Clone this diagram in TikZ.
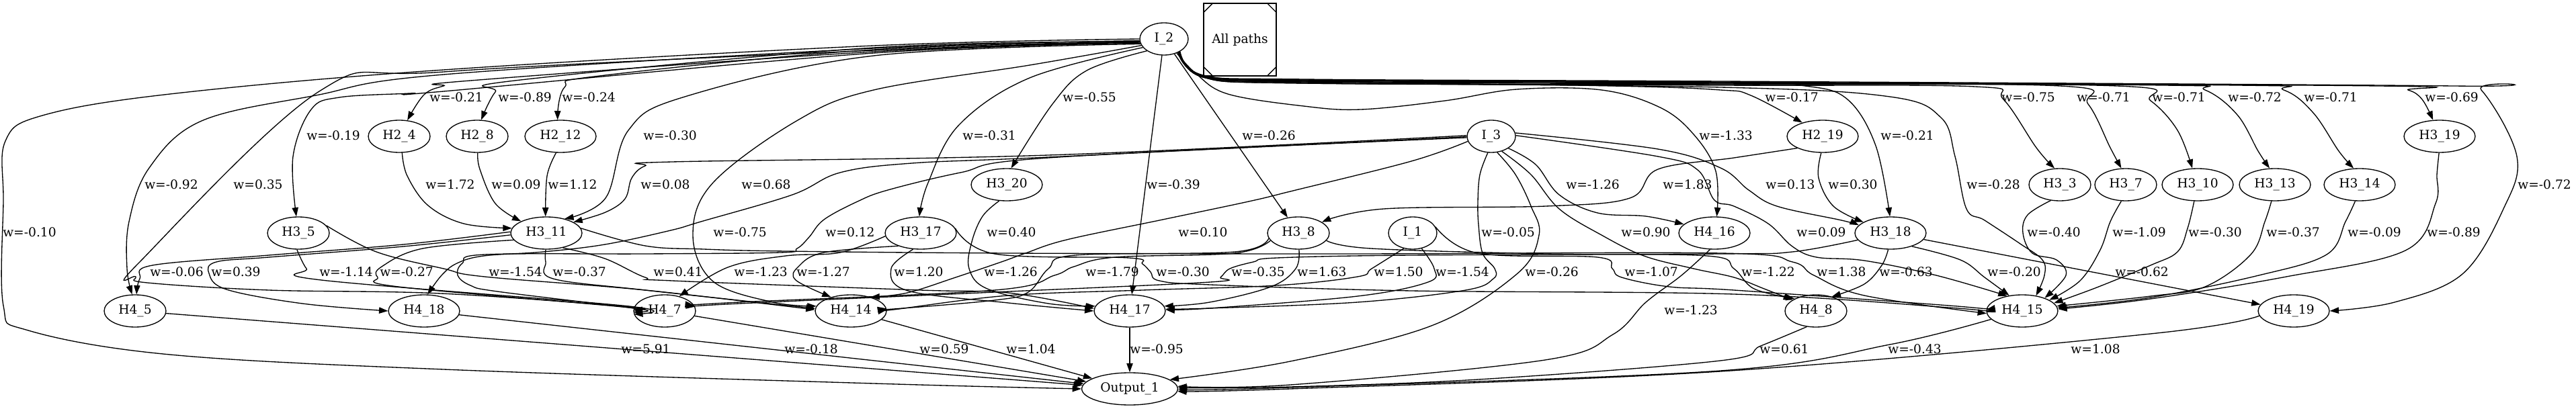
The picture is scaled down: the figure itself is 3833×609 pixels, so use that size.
\documentclass[tikz,border=0pt]{standalone}
\usepackage{fontspec}
\setmainfont{DejaVu Serif}
\usetikzlibrary{shapes.geometric,arrows.meta}
\tikzset{
  nd/.style={draw, ellipse, line width=1pt, inner sep=0pt, minimum height=36pt, font=\fontsize{14pt}{17pt}\selectfont},
  wI/.style={minimum width=54pt},
  wS/.style={minimum width=69pt},
  wL/.style={minimum width=79.5pt},
  wO/.style={minimum width=107pt},
  apbox/.style={draw, line width=1pt, inner sep=0pt, minimum width=81pt, minimum height=81pt, font=\fontsize{14pt}{17pt}\selectfont},
  lbl/.style={inner sep=0pt, font=\fontsize{14pt}{17pt}\selectfont},
  cx/.style={line width=1pt, -{Triangle[length=10pt,width=7pt]}},
}
\newcommand\cplot[1]{\draw[cx] plot[smooth,tension=0.6] coordinates {#1};}
\newcommand\wlab[4]{\node[lbl] (#1) at (#2,#3) {#4};}
\begin{document}
\begin{tikzpicture}[x=0.75pt,y=-0.75pt]
\useasboundingbox (0,0) rectangle (3833,609);
% nodes
\node[nd,wI] (I2) at (1732,58) {I\_2};
\node[apbox] (AP) at (1845,59) {All paths};
\draw[line width=1pt] ([yshift=-11pt]AP.north west) -- ([xshift=11pt]AP.north west);
\draw[line width=1pt] ([xshift=-11pt]AP.north east) -- ([yshift=-11pt]AP.north east);
\draw[line width=1pt] ([yshift=11pt]AP.south west) -- ([xshift=11pt]AP.south west);
\draw[line width=1pt] ([xshift=-11pt]AP.south east) -- ([yshift=11pt]AP.south east);
\node[nd,wI] (I3) at (2219,203) {I\_3};
\node[nd,wI] (I1) at (2102,347) {I\_1};
\node[nd,wS] (H24) at (594,203) {H2\_4};
\node[nd,wS] (H28) at (710,203) {H2\_8};
\node[nd,wL] (H212) at (834,203) {H2\_12};
\node[nd,wL] (H219) at (2712,203) {H2\_19};
\node[nd,wL] (H319) at (3630,203) {H3\_19};
\node[nd,wL] (H320) at (1498,275) {H3\_20};
\node[nd,wS] (H33) at (3065,275) {H3\_3};
\node[nd,wS] (H37) at (3163,275) {H3\_7};
\node[nd,wL] (H310) at (3270,275) {H3\_10};
\node[nd,wL] (H313) at (3385,275) {H3\_13};
\node[nd,wL] (H314) at (3511,275) {H3\_14};
\node[nd,wS] (H35) at (444,347) {H3\_5};
\node[nd,wL] (H311) at (813,347) {H3\_11};
\node[nd,wL] (H317) at (1370,347) {H3\_17};
\node[nd,wS] (H38) at (1932,347) {H3\_8};
\node[nd,wL] (H416) at (2551,347) {H4\_16};
\node[nd,wL] (H318) at (2813,347) {H3\_18};
\node[nd,wS] (H45) at (201,463) {H4\_5};
\node[nd,wL] (H418) at (631,463) {H4\_18};
\node[nd,wS] (H47) at (989,463) {H4\_7};
\node[nd,wL] (H414) at (1266,463) {H4\_14};
\node[nd,wL] (H417) at (1681,463) {H4\_17};
\node[nd,wS] (H48) at (2702,463) {H4\_8};
\node[nd,wL] (H415) at (3009,463) {H4\_15};
\node[nd,wL] (H419) at (3413,463) {H4\_19};
\node[nd,wO] (Out) at (1681,579) {Output\_1};
% edges from I_2 (left)
\cplot{(I2.west) (1300,68) (660,104) (253,140) (63,172) (8,210) (5,300) (5,455) (42,492) (253,528) (660,550) (1300,571) (Out.180)}
\cplot{(I2.184) (1300,72) (660,111) (470,142) (300,180) (222,250) (192,330) (189,400) (H45.100)}
\cplot{(I2.186) (1300,75) (660,107) (475,136) (206,392) (202,412) (219,421) (400,432) (656,437) (936,457) (H47.178)}
\cplot{(I2.190) (1300,79) (660,136) (610,139) (505,145) (463,163) (436,233) (H35.97)}
\cplot{(I2.188) (1300,77) (700,120) (660,128) (631,141) (H24.63)}
\cplot{(I2.186) (1300,71) (766,120) (737,137) (H28.76)}
\cplot{(I2.187) (1300,74) (892,113) (840,130) (H212.100)}
\cplot{(I2.192) (1300,83) (1019,144) (935,194) (901,295) (H311.38)}
\cplot{(I2.196) (1532,97) (1300,134) (1187,179) (1061,272) (1031,350) (1061,419) (1150,450) (H414.172)}
\cplot{(I2.202) (1532,116) (1427,186) (1381,272) (H317.95)}
\cplot{(I2.215) (1617,105) (1566,155) (H320.75)}
\draw[cx] (I2) -- (H417);
\draw[cx] (I2) -- (H38);
% edges from I_2 (right bundle)
\cplot{(I2.322) (1790,112) (1940,121) (2400,128) (2560,134) (2605,142) (H219.146)}
\cplot{(I2.312) (1780,110) (1827,140) (1940,158) (2025,163) (2150,150) (2257,133) (2383,134) (2470,160) (2520,200) (2553,255) (H416.82)}
\cplot{(I2.318) (1790,113) (1940,119) (2560,123) (2686,128) (2749,148) (2791,217) (H318.92)}
\cplot{(I2.320) (1790,114) (1940,123) (2560,130) (2812,144) (2888,175) (2909,233) (2926,311) (2953,328) (3006,363) (3039,387) (3042,410) (H415.48)}
\cplot{(I2.321) (1790,115) (1940,124) (2560,127) (2939,129) (2981,148) (3030,220) (H33.108)}
\cplot{(I2.321) (1790,115) (1940,124) (2560,126) (3065,128) (3107,155) (3140,220) (H37.105)}
\cplot{(I2.320) (1790,114) (1940,122) (2560,125) (3150,128) (3200,150) (3240,194) (H310.108)}
\cplot{(I2.319) (1790,114) (1940,121) (2560,124) (3220,127) (3281,134) (3329,171) (3360,225) (H313.108)}
\cplot{(I2.318) (1790,113) (1940,120) (2560,123) (3330,127) (3398,134) (3442,168) (3480,225) (H314.110)}
\cplot{(I2.317) (1790,113) (1940,119) (2560,122) (3540,128) (3583,134) (3604,148) (H319.112)}
\cplot{(I2.316) (1790,112) (1940,118) (2560,121) (3650,128) (3692,134) (3745,233) (3725,311) (3664,408) (3563,450) (H419.east)}
% H2 / I_3 to H3
\cplot{(H24.280) (606,262) (637,306) (690,333) (H311.172)}
\cplot{(H28.272) (714,252) (737,303) (H311.155)}
\cplot{(H212.255) (814,262) (H311.93)}
\cplot{(I3.178) (1560,231) (1000,241) (960,247) (940,265) (930,296) (901,316) (H311.22)}
\cplot{(H219.265) (2706,265) (2728,307) (H318.158)}
\cplot{(H219.205) (2580,235) (2467,252) (2425,295) (2300,307) (2059,311) (H38.25)}
\cplot{(I3.8) (2467,222) (2560,250) (2602,283) (2644,307) (2740,328) (H318.166)}
\cplot{(I3.325) (2285,245) (2320,290) (2377,317) (2449,322) (H416.164)}
% I_3 long edges
\cplot{(I3.2) (2467,233) (2526,253) (2551,298) (2580,307) (2631,333) (2667,367) (2703,383) (2774,388) (2881,410) (H415.135)}
\cplot{(I3.305) (2278,260) (2320,311) (2383,350) (2446,381) (2520,400) (2580,413) (2625,430) (H48.155)}
\cplot{(I3.181) (1560,234) (1357,243) (1250,257) (1179,290) (1043,330) (998,343) (900,364) (808,375) (720,381) (680,392) (657,410) (H418.78)}
\cplot{(I3.183) (1560,235) (1429,257) (1321,283) (1276,300) (1226,327) (1204,353) (1186,370) (1161,376) (960,378) (721,379) (688,392) (681,410) (700,425) (740,434) (936,458) (H47.178)}
\cplot{(I3.192) (2100,240) (1920,285) (1858,300) (1730,327) (1587,357) (1526,377) (1490,390) (1422,413) (1350,436) (H414.35)}
\cplot{(I3.258) (2202,260) (2199,300) (2200,335) (2206,377) (2224,400) (2222,415) (2181,432) (2020,450) (1800,459) (H417.3)}
\cplot{(I3.290) (2255,260) (2278,307) (2290,350) (2257,408) (2130,485) (1920,538) (Out.13)}
% H3_20
\cplot{(H320.245) (1462,322) (1446,360) (1442,400) (1469,430) (1560,452) (H417.172)}
% H3_x to H4_15
\cplot{(H33.240) (3017,320) (3010,347) (3024,377) (3060,387) (3074,410) (H415.30)}
\cplot{(H37.255) (3140,330) (3125,372) (3095,418) (H415.22)}
\cplot{(H310.258) (3255,340) (3240,375) (3200,395) (3120,428) (H415.14)}
\cplot{(H313.258) (3370,330) (3349,379) (3281,427) (3200,441) (H415.8)}
\cplot{(H314.255) (3490,330) (3462,379) (3361,410) (3200,443) (H415.5)}
\cplot{(H319.268) (3626,260) (3624,303) (3579,373) (3402,412) (3200,445) (H415.3)}
% H3_18
\draw[cx] (H318) -- (H419);
\cplot{(H318.328) (2917,387) (2953,413) (H415.130)}
\cplot{(H318.262) (2800,395) (2774,423) (H48.42)}
\cplot{(H318.192) (2667,375) (2560,378) (2100,380) (1900,384) (1865,390) (1830,400) (1816,413) (1801,420) (1480,435) (1100,452) (H47.8)}
% H3_8
\cplot{(H38.195) (1837,377) (1659,383) (1598,397) (1569,410) (1480,432) (1100,450) (H47.11)}
\cplot{(H38.190) (1837,375) (1600,380) (1560,400) (1530,435) (1480,447) (1330,460) (H414.4)}
\cplot{(H38.272) (1928,400) (1891,427) (1800,450) (H417.8)}
\cplot{(H38.345) (2040,370) (2300,378) (2540,381) (2580,400) (2610,430) (H48.150)}
% I_1
\cplot{(I1.300) (2134,400) (2125,420) (2020,441) (1800,459) (H417.2)}
\cplot{(I1.240) (2041,400) (2020,412) (1900,425) (1700,432) (1500,440) (1330,461) (H414.2)}
\cplot{(I1.15) (2199,377) (2377,383) (2399,400) (2413,413) (2484,427) (2580,432) (2900,455) (H415.178)}
% H3_17
\cplot{(H317.8) (1480,378) (1680,384) (1700,393) (1712,405) (1725,418) (1801,424) (2100,433) (2580,438) (2900,458) (H415.182)}
\cplot{(H317.185) (1250,376) (1169,381) (1083,398) (H47.45)}
\cplot{(H317.210) (1226,376) (1188,397) (1184,417) (H414.145)}
\cplot{(H317.245) (1326,400) (1351,433) (1500,451) (H417.180)}
% H3_11
\cplot{(H311.178) (600,364) (400,380) (227,395) (208,415) (H45.85)}
\cplot{(H311.183) (600,367) (400,383) (322,390) (311,407) (337,431) (450,452) (H418.180)}
\cplot{(H311.192) (629,370) (568,397) (562,413) (593,427) (936,458) (H47.182)}
\cplot{(H311.268) (812,390) (823,415) (960,432) (H414.176)}
\cplot{(H311.318) (900,385) (960,413) (1000,418) (1369,432) (1500,436) (H417.176)}
\cplot{(H311.8) (960,366) (1047,371) (1169,374) (1500,377) (2000,378) (2560,377) (2667,390) (2699,410) (2774,440) (H415.184)}
% H3_5
\cplot{(H35.265) (456,400) (478,417) (936,456) (H47.186)}
\cplot{(H35.15) (560,375) (660,400) (721,412) (960,432) (H414.178)}
% to Output
\draw[cx] (H45) -- (Out);
\draw[cx] (H418) -- (Out);
\draw[cx] (H47) -- (Out);
\draw[cx] (H414) -- (Out);
\draw[cx] (H417) -- (Out);
\cplot{(H416.255) (2502,410) (2449,450) (2400,498) (2299,536) (1920,573) (Out.3)}
\cplot{(H48.240) (2620,515) (2560,537) (2200,565) (1920,576) (Out.1)}
\cplot{(H415.195) (2812,513) (2560,552) (1920,577) (Out.359)}
\cplot{(H419.188) (3200,497) (2560,553) (1920,579) (Out.357)}
% labels
\wlab{la1}{679}{145}{w=-0.21}
\wlab{la2}{781}{145}{w=-0.89}
\wlab{la3}{876}{145}{w=-0.24}
\wlab{la4}{1621}{145}{w=-0.55}
\wlab{la5}{2666}{145}{w=-0.17}
\wlab{la6}{3018}{145}{w=-0.75}
\wlab{la7}{3130}{145}{w=-0.71}
\wlab{la8}{3242}{145}{w=-0.71}
\wlab{la9}{3355}{145}{w=-0.72}
\wlab{la10}{3468}{145}{w=-0.71}
\wlab{la11}{3648}{145}{w=-0.69}
\wlab{lb1}{496}{202}{w=-0.19}
\wlab{lb2}{997}{202}{w=-0.30}
\wlab{lb3}{1472}{202}{w=-0.31}
\wlab{lb4}{1888}{202}{w=-0.26}
\wlab{lb5}{2568}{202}{w=-1.33}
\wlab{lb6}{2838}{202}{w=-0.21}
\wlab{lc1}{255}{275}{w=-0.92}
\wlab{lc2}{384}{275}{w=0.35}
\wlab{lc3}{670}{275}{w=1.72}
\wlab{lc4}{768}{275}{w=0.09}
\wlab{lc5}{852}{275}{w=1.12}
\wlab{lc6}{990}{275}{w=0.08}
\wlab{lc7}{1140}{275}{w=0.68}
\wlab{lc8}{1746}{275}{w=-0.39}
\wlab{lc9}{2370}{275}{w=-1.26}
\wlab{lc10}{2511}{275}{w=1.83}
\wlab{lc11}{2664}{275}{w=0.13}
\wlab{lc12}{2757}{275}{w=0.30}
\wlab{lc13}{2966}{275}{w=-0.28}
\wlab{lc14}{3786}{275}{w=-0.72}
\wlab{ld1}{44}{346}{w=-0.10}
\wlab{ld2}{1101}{346}{w=-0.75}
\wlab{ld3}{1265}{346}{w=0.12}
\wlab{ld4}{1505}{346}{w=0.40}
\wlab{ld5}{1790}{346}{w=0.10}
\wlab{ld6}{2244}{346}{w=-0.05}
\wlab{ld7}{2449}{346}{w=0.90}
\wlab{ld8}{2710}{346}{w=0.09}
\wlab{ld9}{3056}{346}{w=-0.40}
\wlab{ld10}{3183}{346}{w=-1.09}
\wlab{ld11}{3296}{346}{w=-0.30}
\wlab{ld12}{3412}{346}{w=-0.37}
\wlab{ld13}{3533}{346}{w=-0.09}
\wlab{ld14}{3651}{346}{w=-0.89}
\wlab{le1}{263}{405}{w=-0.06}
\wlab{le2}{351}{405}{w=0.39}
\wlab{le3}{515}{405}{w=-1.14}
\wlab{le4}{605}{405}{w=-0.27}
\wlab{le5}{767}{405}{w=-1.54}
\wlab{le6}{862}{405}{w=-0.37}
\wlab{le7}{1009}{405}{w=0.41}
\wlab{le8}{1132}{405}{w=-1.23}
\wlab{le9}{1225}{405}{w=-1.27}
\wlab{le10}{1367}{405}{w=1.20}
\wlab{le11}{1504}{405}{w=-1.26}
\wlab{le12}{1655}{405}{w=-1.79}
\wlab{le13}{1760}{405}{w=-0.30}
\wlab{le14}{1872}{405}{w=-0.35}
\wlab{le15}{1967}{405}{w=1.63}
\wlab{le16}{2081}{405}{w=1.50}
\wlab{le17}{2176}{405}{w=-1.54}
\wlab{le18}{2309}{405}{w=-0.26}
\wlab{le19}{2457}{405}{w=-1.07}
\wlab{le20}{2631}{405}{w=-1.22}
\wlab{le21}{2740}{405}{w=1.38}
\wlab{le22}{2836}{405}{w=-0.63}
\wlab{le23}{2997}{405}{w=-0.20}
\wlab{le24}{3187}{405}{w=-0.62}
\wlab{lf1}{2516}{462}{w=-1.23}
\wlab{lg1}{961}{520}{w=5.91}
\wlab{lg2}{1207}{520}{w=-0.18}
\wlab{lg3}{1405}{520}{w=0.59}
\wlab{lg4}{1534}{520}{w=1.04}
\wlab{lg5}{1721}{520}{w=-0.95}
\wlab{lg6}{2655}{520}{w=0.61}
\wlab{lg7}{2849}{520}{w=-0.43}
\wlab{lg8}{3118}{520}{w=1.08}
\end{tikzpicture}
\end{document}
